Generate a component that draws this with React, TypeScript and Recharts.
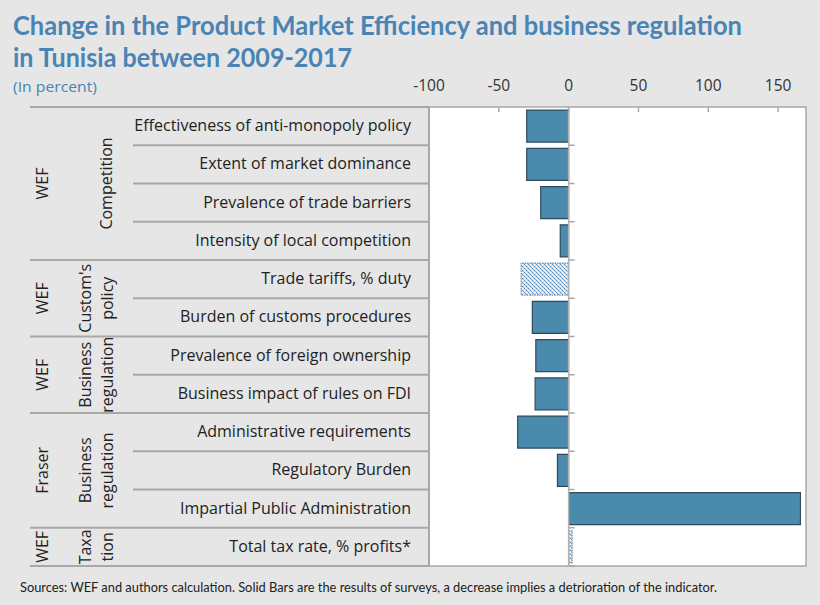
import React from "react";
import {
  BarChart,
  Bar,
  Cell,
  XAxis,
  YAxis,
  ReferenceArea,
  ReferenceLine,
} from "recharts";

const categories = [
  "Effectiveness of anti-monopoly policy",
  "Extent of market dominance",
  "Prevalence of trade barriers",
  "Intensity of local competition",
  "Trade tariffs, % duty",
  "Burden of customs procedures",
  "Prevalence of foreign ownership",
  "Business impact of rules on FDI",
  "Administrative requirements",
  "Regulatory Burden",
  "Impartial Public Administration",
  "Total tax rate, % profits*",
];
const values = [-30, -30, -20, -6, -34, -26, -23.5, -24, -36.5, -8, 166, 2.5];
// hatched bars are not survey results
const hatched = [false, false, false, false, true, false, false, false, false, false, false, true];

const groupSources = ["WEF", "WEF", "WEF", "Fraser", "WEF"];
const groupTitles = [["Competition"], ["Custom's", "policy"], ["Business", "regulation"], ["Business", "regulation"], ["Taxa", "tion"]];
const groupSizes = [4, 2, 2, 3, 1];

const xTicks = [-100, -50, 0, 50, 100, 150];
const xDomain = [-100, 170];

const W = 820;
const H = 605;
const PLOT_LEFT = 429;
const PLOT_RIGHT = 806;
const PLOT_TOP = 107;
const PLOT_BOTTOM = 566;
const ROW_H = (PLOT_BOTTOM - PLOT_TOP) / categories.length;
const ZERO_X = PLOT_LEFT + ((0 - xDomain[0]) * (PLOT_RIGHT - PLOT_LEFT)) / (xDomain[1] - xDomain[0]);

const BLUE = "#4a84b4";
const LINE = "#a8a8a8";
const FONT = "'Open Sans', sans-serif";

const data = categories.map((name, i) => ({ name, value: values[i], hatched: hatched[i] }));

// first row index of each group
const groupStarts = groupSizes.map((_, g) => groupSizes.slice(0, g).reduce((a, b) => a + b, 0));

function RowTick(props: any) {
  const { y, payload } = props;
  const i = categories.indexOf(payload.value);
  const g = groupStarts.findIndex((s, k) => i >= s && i < s + groupSizes[k]);
  const isGroupEnd = i === groupStarts[g] + groupSizes[g] - 1;
  const bottom = y + ROW_H / 2;
  const top = y - ROW_H / 2;
  const parts: React.ReactNode[] = [];

  if (i === 0) {
    parts.push(<line key="top" x1={30} x2={PLOT_LEFT} y1={top} y2={top} stroke={LINE} strokeWidth={2} />);
  }
  parts.push(
    <line key="sep" x1={isGroupEnd ? 30 : 133} x2={PLOT_LEFT} y1={bottom} y2={bottom} stroke={LINE} strokeWidth={2} />
  );
  parts.push(<line key="zt" x1={ZERO_X} x2={ZERO_X + 6} y1={bottom} y2={bottom} stroke={LINE} strokeWidth={1.5} />);
  parts.push(
    <text key="lbl" x={411} y={y - 1} textAnchor="end" dominantBaseline="central" fontFamily={FONT} fontSize={16} fill="#222">
      {payload.value}
    </text>
  );

  if (i === groupStarts[g]) {
    const cy = y + ((groupSizes[g] - 1) / 2) * ROW_H;
    parts.push(
      <text key="src" x={42} y={cy} transform={`rotate(-90, 42, ${cy})`} textAnchor="middle" dominantBaseline="central" fontFamily={FONT} fontSize={16} fill="#222">
        {groupSources[g]}
      </text>
    );
    const lines = groupTitles[g];
    const xs = lines.length === 1 ? [106] : [85, 107];
    lines.forEach((t, k) => {
      parts.push(
        <text key={"gt" + k} x={xs[k]} y={cy} transform={`rotate(-90, ${xs[k]}, ${cy})`} textAnchor="middle" dominantBaseline="central" fontFamily={FONT} fontSize={16} fill="#222">
          {t}
        </text>
      );
    });
  }
  return <g>{parts}</g>;
}

function ValueTick(props: any) {
  const { x, payload } = props;
  return (
    <g>
      <text x={x} y={85} textAnchor="middle" dominantBaseline="central" fontFamily={FONT} fontSize={15.5} fill="#333">
        {payload.value}
      </text>
      <line x1={x} x2={x} y1={PLOT_TOP} y2={PLOT_TOP + 5} stroke={LINE} strokeWidth={1.5} />
    </g>
  );
}

export default function App() {
  return (
    <div style={{ position: "absolute", left: 0, top: 0, width: W, height: H, background: "#e6e6e6", overflow: "hidden" }}>
      <BarChart
        width={W}
        height={H}
        data={data}
        layout="vertical"
        margin={{ top: 70, right: W - PLOT_RIGHT, bottom: H - PLOT_BOTTOM, left: 30 }}
        barCategoryGap="8%"
      >
        <defs>
          <pattern id="dots" width={4} height={4} patternUnits="userSpaceOnUse">
            <rect width={4} height={4} fill="#d3e3f1" />
            <rect x={0} y={0} width={1} height={1} fill="#4f86b6" />
            <rect x={2} y={2} width={1} height={1} fill="#4f86b6" />
            <rect x={2} y={0} width={1} height={1} fill="#ffffff" />
            <rect x={0} y={2} width={1} height={1} fill="#ffffff" />
            <rect x={1} y={1} width={1} height={1} fill="#8fb2d2" />
            <rect x={3} y={3} width={1} height={1} fill="#8fb2d2" />
          </pattern>
        </defs>
        <XAxis
          type="number"
          orientation="top"
          domain={xDomain}
          ticks={xTicks}
          height={PLOT_TOP - 70}
          axisLine={false}
          tickLine={false}
          tick={<ValueTick />}
          allowDataOverflow
        />
        <YAxis
          type="category"
          dataKey="name"
          width={PLOT_LEFT - 30}
          axisLine={{ stroke: LINE, strokeWidth: 2 }}
          tickLine={false}
          tick={<RowTick />}
          interval={0}
        />
        <ReferenceArea x1={-100} x2={170} fill="#ffffff" fillOpacity={1} stroke={LINE} strokeWidth={1.5} />
        <ReferenceLine x={0} stroke="#b4b4b4" strokeWidth={1.5} />
        <Bar dataKey="value" isAnimationActive={false}>
          {data.map((d, i) => (
            <Cell
              key={i}
              fill={d.hatched ? "url(#dots)" : "#4a8aad"}
              stroke={d.hatched ? "#7d8b98" : "#2f4a5c"}
              strokeWidth={1.2}
              strokeDasharray={d.hatched ? "1.5 1" : undefined}
            />
          ))}
        </Bar>
      </BarChart>
      <svg width={W} height={H} style={{ position: "absolute", left: 0, top: 0, pointerEvents: "none" }}>
        <text x={13} y={35} fontFamily="Lato, sans-serif" fontWeight="bold" fontSize={26} fill={BLUE} textLength={729} lengthAdjust="spacingAndGlyphs">
          Change in the Product Market Efficiency and business regulation
        </text>
        <text x={13} y={67} fontFamily="Lato, sans-serif" fontWeight="bold" fontSize={26} fill={BLUE} textLength={339} lengthAdjust="spacingAndGlyphs">
          in Tunisia between 2009-2017
        </text>
        <text x={13} y={92} fontFamily={FONT} fontSize={14.5} fill={BLUE} textLength={84} lengthAdjust="spacingAndGlyphs">
          (In percent)
        </text>
        <text x={20} y={592} fontFamily="Lato, sans-serif" fontSize={12.5} fill="#222" textLength={697} lengthAdjust="spacingAndGlyphs">
          Sources: WEF and authors calculation. Solid Bars are the results of surveys, a decrease implies a detrioration of the indicator.
        </text>
      </svg>
    </div>
  );
}
